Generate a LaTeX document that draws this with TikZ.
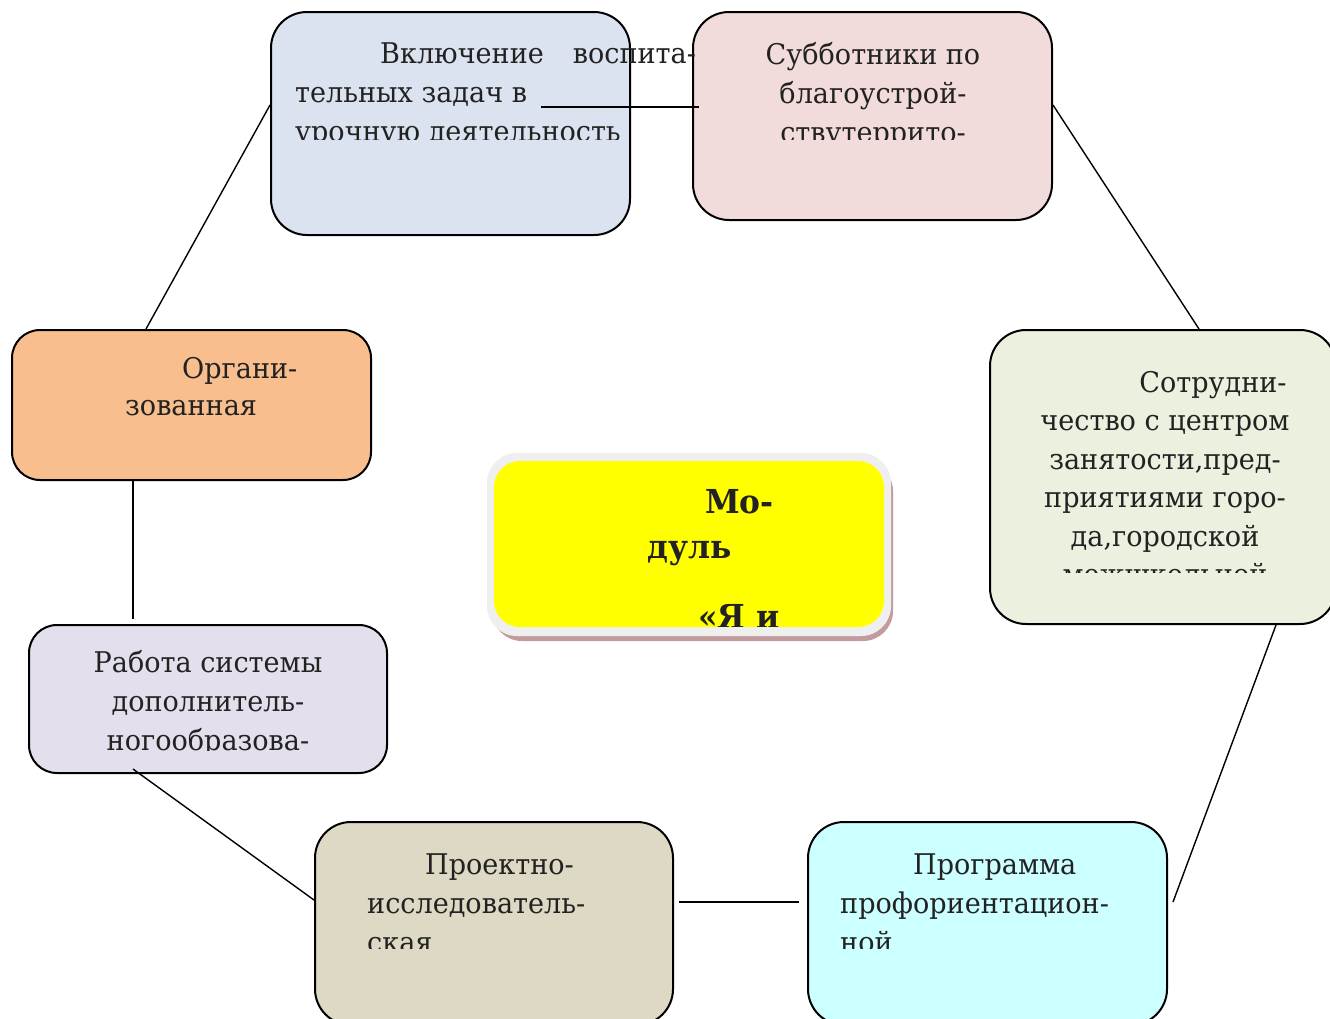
\documentclass[tikz,border=0pt]{standalone}
\usepackage{fontspec}
\setmainfont{DejaVu Serif}[FakeStretch=0.95]
\definecolor{cblue}{HTML}{DCE3F0}
\definecolor{cpink}{HTML}{F2DCDB}
\definecolor{cgreen}{HTML}{EBF1DE}
\definecolor{corange}{HTML}{F8BE8E}
\definecolor{clav}{HTML}{E4DFEC}
\definecolor{ctan}{HTML}{DDD9C4}
\definecolor{ccyan}{HTML}{CCFFFF}
\definecolor{cshadow}{HTML}{C29C9C}
\definecolor{cframe}{HTML}{EFEFEF}
\definecolor{cyel}{RGB}{255,255,0}
\definecolor{ctext}{HTML}{222222}
\tikzset{
  box/.style={draw=black, line width=2pt, rounded corners=36pt, inner sep=0pt},
  smallbox/.style={box, rounded corners=28pt},
  link/.style={draw=black, line width=1.4pt},
  biglink/.style={draw=black, line width=2.4pt},
  txt/.style={inner sep=0pt, text=ctext, font={\fontsize{28.5}{39}\selectfont}},
  boldtxt/.style={inner sep=0pt, text=ctext, font={\fontsize{33}{45}\selectfont\bfseries}}
}
\begin{document}
\begin{tikzpicture}[x=1pt,y=-1pt]
\clip (0,0) rectangle (1330,1018);
\fill[white] (0,0) rectangle (1330,1018);
% boxes
\node[box, fill=cblue, minimum width=359pt, minimum height=223pt] (blue) at (450.5,123.5) {};
\node[box, fill=cpink, minimum width=359pt, minimum height=208pt] (pink) at (872.5,116) {};
\node[box, fill=cgreen, minimum width=346pt, minimum height=294pt] (green) at (1163,477) {};
\node[smallbox, fill=corange, minimum width=359pt, minimum height=150pt] (orange) at (191.5,405) {};
\node[smallbox, fill=clav, minimum width=358pt, minimum height=148pt] (lav) at (208,699) {};
\node[box, fill=ctan, minimum width=358pt, minimum height=203pt] (tan) at (494,923.5) {};
\node[box, fill=ccyan, minimum width=359pt, minimum height=203pt] (cyan) at (987.5,923.5) {};
% central module
\node[fill=cshadow, rounded corners=30pt, minimum width=401pt, minimum height=180pt, inner sep=0pt] (modshadow) at (692.5,551) {};
\node[fill=cframe, rounded corners=30pt, minimum width=404pt, minimum height=183pt, inner sep=0pt] (modframe) at (689,544.5) {};
\node[fill=cyel, rounded corners=26pt, minimum width=390pt, minimum height=166pt, inner sep=0pt] (mod) at (689,544) {};
% connectors
\coordinate (hstart) at (541,107);
\draw[biglink] (hstart) -- ([xshift=7pt]hstart -| pink.west);
\draw[link] ([yshift=11pt]pink.east) -- ([xshift=36pt]green.north);
\draw[link] ([xshift=113pt]green.south) -- ([xshift=5pt,yshift=21.5pt]cyan.east);
\draw[link] ([xshift=-8pt,yshift=21.5pt]cyan.west) -- ([xshift=5pt,yshift=21.5pt]tan.east);
\draw[link] ([yshift=23.5pt]tan.west) -- ([xshift=-75pt,yshift=5pt]lav.south);
\draw[link] ([xshift=-75pt,yshift=5pt]lav.north) -- ([xshift=-58.5pt]orange.south);
\draw[link] ([xshift=-45.5pt]orange.north) -- ([yshift=18.5pt]blue.west);
% texts
\begin{scope}
\clip (260,20) rectangle (720,139);
\node[txt, align=left, anchor=north west] (blueT) at (295,42)
  {\rule{0pt}{21pt}\hspace*{85pt}Включение\hspace{29pt}воспита-\\тельных задач в\\урочную деятельность};
\end{scope}
\begin{scope}
\clip (693,20) rectangle (1052,139);
\node[txt, align=center, anchor=north] (pinkT) at (873,42)
  {\rule{0pt}{21pt}Субботники по\\благоустрой-\\ствутеррито-};
\end{scope}
\begin{scope}
\clip (990,340) rectangle (1336,572);
\node[txt, align=center, anchor=north, font={\fontsize{28.5}{38.5}\selectfont}] (greenT) at (1165,371)
  {\rule{0pt}{21pt}\hspace*{96pt}Сотрудни-\\чество с центром\\занятости,пред-\\приятиями горо-\\да,городской\\межшкольной};
\end{scope}
\node[txt, align=left, anchor=north west, font={\fontsize{28.5}{37}\selectfont}] (orangeT) at (125,357)
  {\rule{0pt}{21pt}\hspace*{57pt}Органи-\\зованная};
\begin{scope}
\clip (29,630) rectangle (387,750);
\node[txt, align=center, anchor=north] (lavT) at (208,650)
  {\rule{0pt}{21pt}Работа системы\\дополнитель-\\ногообразова-};
\end{scope}
\begin{scope}
\clip (315,830) rectangle (673,948);
\node[txt, align=left, anchor=north west] (tanT) at (367,853)
  {\rule{0pt}{21pt}\hspace*{58pt}Проектно-\\исследователь-\\ская};
\end{scope}
\begin{scope}
\clip (808,830) rectangle (1167,948);
\node[txt, align=left, anchor=north west] (cyanT) at (840,853)
  {\rule{0pt}{21pt}\hspace*{73pt}Программа\\профориентацион-\\ной};
\end{scope}
\begin{scope}
\clip (494,461) rectangle (884,626);
\node[boldtxt, align=left, anchor=north west] (modT) at (647,488)
  {\rule{0pt}{25pt}\hspace*{58pt}Мо-\\дуль\\[25pt]\hspace*{51pt}«Я и};
\end{scope}
\end{tikzpicture}
\end{document}
